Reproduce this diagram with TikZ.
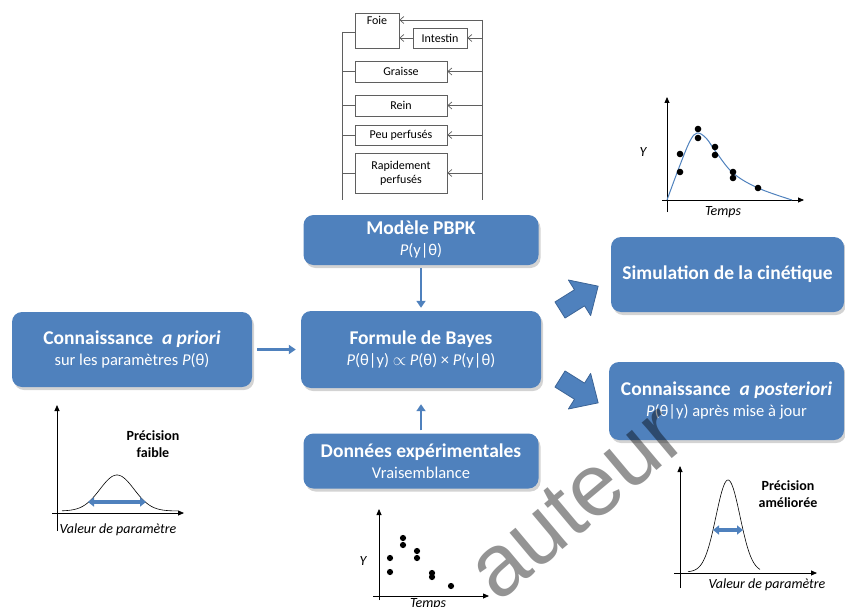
\documentclass[tikz,border=0pt]{standalone}
\usepackage{fontspec}
\setmainfont{Carlito}
\newfontfamily\filigrane{Liberation Sans}
\usetikzlibrary{arrows.meta,shadows}
\definecolor{bleu}{RGB}{79,129,189}
\definecolor{bleufonce}{RGB}{60,100,150}
\definecolor{trait}{RGB}{95,95,95}
\newcommand\petit{\fontsize{16.5}{21}\selectfont}

\begin{document}
\begin{tikzpicture}[x=1pt, y=-1pt,
  bloc/.style={rectangle, rounded corners=10pt, fill=bleu, text=white, align=center,
    font=\fontsize{19.5}{21}\selectfont, inner sep=2pt,
    drop shadow={shadow xshift=2pt, shadow yshift=-3pt, opacity=0.35}},
  organe/.style={draw=trait, line width=0.7pt, fill=white, align=center,
    font=\fontsize{12}{14}\selectfont, inner sep=1pt},
  fleche/.style={bleu, line width=2.6pt, -{Triangle[width=9pt,length=7pt]}},
  flux/.style={trait, line width=0.7pt, -{Straight Barb[length=4pt,width=7pt]}},
  bus/.style={trait, line width=0.7pt},
  axe/.style={line width=0.8pt, -{Triangle[width=5pt,length=6pt]}},
  legende/.style={font=\fontsize{14}{16}\selectfont\itshape},
  precision/.style={font=\fontsize{14}{17}\selectfont\bfseries, align=center},
  largeur/.style={bleu, line width=3.5pt, {Triangle[width=9pt,length=6pt]}-{Triangle[width=9pt,length=6pt]}},
  grosse/.style={fill=bleu, draw=bleufonce, line width=0.8pt, line join=round}]
  \useasboundingbox (0,0) rectangle (845,607);

  % Schema PBPK
  \node[organe, minimum width=44, minimum height=35,
    label={[anchor=north, inner sep=3pt, font=\fontsize{12}{14}\selectfont]north:Foie}] (foie) at (377,30.5) {};
  \node[organe, minimum width=54, minimum height=20] (intestin) at (440,38) {Intestin};
  \node[organe, minimum width=92, minimum height=21] (graisse) at (401,71.5) {Graisse};
  \node[organe, minimum width=92, minimum height=21] (rein) at (401,105.5) {Rein};
  \node[organe, minimum width=92, minimum height=20] (peu) at (401,135) {Peu perfusés};
  \node[organe, minimum width=92, minimum height=40] (rapide) at (401,173) {Rapidement\\perfusés};
  \coordinate (gh) at (342,32);
  \coordinate (gb) at (342,200);
  \coordinate (dh) at (482,20);
  \coordinate (db) at (482,200);
  \draw[bus] (gh) -- (gb);
  \draw[bus] (dh) -- (db);
  \draw[bus] (gh) -- (gh -| foie.west);
  \foreach \o in {graisse,rein,peu,rapide}
    \draw[bus] (\o.west -| gh) -- (\o.west);
  \draw[flux] (dh) -- (dh -| foie.east);
  \draw[flux] (intestin.west) -- (intestin.west -| foie.east);
  \foreach \o in {intestin,graisse,rein,peu,rapide}
    \draw[flux] (\o.east -| dh) -- (\o.east);

  % Blocs
  \node[bloc, minimum width=235, minimum height=50] (modele) at (421,240)
    {\textbf{Modèle PBPK}\\\petit\textit{P}(y|θ)};
  \node[bloc, minimum width=240, minimum height=77] (bayes) at (421,349.5)
    {\textbf{Formule de Bayes}\\\petit\textit{P}(θ|y) $\propto$ \textit{P}(θ) × \textit{P}(y|θ)};
  \node[bloc, minimum width=235, minimum height=55] (donnees) at (421,461)
    {\textbf{Données expérimentales}\\\petit Vraisemblance};
  \node[bloc, minimum width=240, minimum height=75] (apriori) at (132,349.5)
    {\textbf{Connaissance \ \textit{a priori}}\\\petit sur les paramètres \textit{P}(θ)};
  \node[bloc, minimum width=233, minimum height=75] (simulation) at (727.5,274.5)
    {\textbf{Simulation de la cinétique}};
  \node[bloc, minimum width=235, minimum height=78] (posteriori) at (726.5,401)
    {\textbf{Connaissance \ \textit{a posteriori}}\\\petit\textit{P}(θ|y) après mise à jour};

  % Fleches
  \draw[fleche, shorten <=5pt, shorten >=5pt] (apriori) -- (bayes);
  \draw[fleche, shorten <=3pt, shorten >=3pt] (modele) -- (bayes);
  \draw[fleche, shorten <=3pt, shorten >=16pt] (donnees) -- (bayes);
  \foreach \y/\a in {310/32, 379/-32} {
    \begin{scope}[shift={(560,\y)}, rotate=\a]
      \draw[grosse] (0,-9.5) -- (23,-9.5) -- (23,-21) -- (45,0)
        -- (23,21) -- (23,9.5) -- (0,9.5) -- cycle;
    \end{scope}
  }

  % Cinetique simulee
  \draw[axe] (667,212) -- (667,97);
  \draw[axe] (662,200) -- (804,200);
  \node[legende] at (643,152) {Y};
  \node[legende] at (723,212) {Temps};
  \draw[bleu, line width=1pt] plot[smooth, tension=0.6] coordinates
    {(667,200) (680,165) (690,141) (697,133) (706,138) (716,152) (733,173) (758,188) (792,200)};
  \foreach \p in {(680,154),(680,172),(698,129),(698,138),(715,147),(715,155),(733,172),(733,178),(758,188)}
    \fill \p circle (3.3);

  % Donnees observees
  \draw[axe] (379,600) -- (379,509);
  \draw[axe] (373,596) -- (489,596);
  \node[legende] at (363,561) {Y};
  \node[legende] at (428,604) {Temps};
  \foreach \p in {(390,558),(390,572),(403,538),(403,545),(417,551),(417,558),(432,573),(432,577),(451,586)}
    \fill \p circle (3.1);

  % Distribution a priori
  \draw[axe] (57,531) -- (57,405);
  \draw[axe] (52,513) -- (184,513);
  \draw[line width=0.6pt] plot[domain=62:178, samples=80, smooth]
    (\x, {511-36*exp(-((\x-117)*(\x-117))/578)});
  \draw[largeur] (88,502) -- (146,502);
  \node[precision] at (153,444) {Précision\\faible};
  \node[legende] at (118,530) {Valeur de paramètre};

  % Distribution a posteriori
  \draw[axe] (680,588) -- (680,466);
  \draw[axe] (674,573) -- (817,573);
  \draw[line width=0.6pt] plot[domain=688:760, samples=80, smooth]
    (\x, {572-92*exp(-((\x-728)*(\x-728))/288)});
  \draw[largeur] (713,530) -- (743,530);
  \node[precision] at (788,494) {Précision\\améliorée};
  \node[legende] at (767,585) {Valeur de paramètre};

  % Filigrane
  \node[font=\filigrane\fontsize{88}{88}\selectfont, text=black, text opacity=0.42, rotate=40] (filigrane) at (576,502) {auteur};
\end{tikzpicture}
\end{document}
